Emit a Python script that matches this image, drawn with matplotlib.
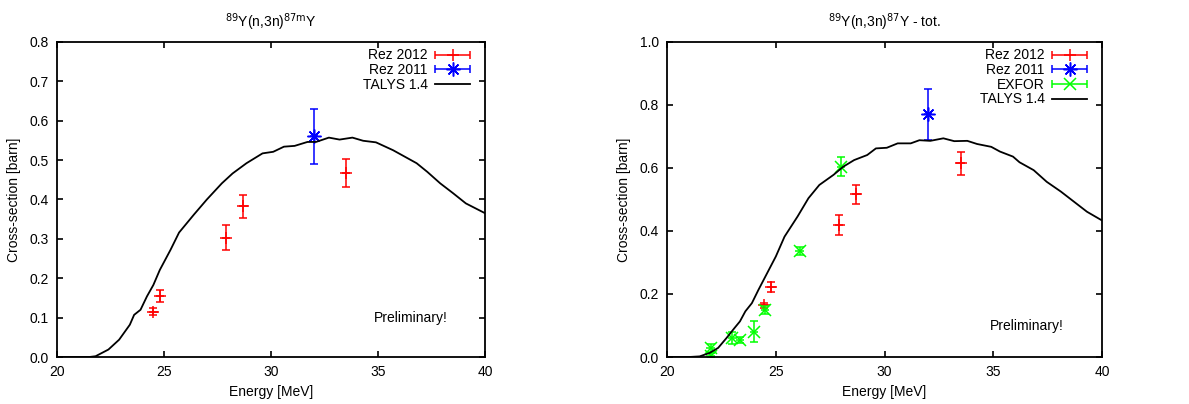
import numpy as np
import matplotlib.pyplot as plt
from matplotlib.legend_handler import HandlerErrorbar
from matplotlib.container import ErrorbarContainer

plt.rcParams['font.family'] = ['Liberation Sans', 'DejaVu Sans']
plt.rcParams['font.size'] = 10

# --- 87mY (isomer) ---
talys_m_e = [20.0, 21.0, 21.5, 21.8, 22.4, 22.9, 23.4, 23.6, 23.9, 24.2, 24.5, 24.8, 25.3, 25.7,
             26.4, 27.0, 27.7, 28.2, 28.85, 29.6, 30.1, 30.6, 31.1, 31.7, 32.1, 32.7, 33.2,
             33.8, 34.3, 34.9, 35.7, 36.2, 36.8, 37.3, 37.9, 38.5, 39.1, 40.0]
talys_m_xs = [0.0, 0.0, 0.0, 0.002, 0.019, 0.044, 0.082, 0.107, 0.12, 0.154, 0.183, 0.221, 0.272,
              0.316, 0.362, 0.400, 0.441, 0.466, 0.492, 0.517, 0.521, 0.534, 0.536, 0.546,
              0.546, 0.557, 0.552, 0.557, 0.549, 0.545, 0.525, 0.510, 0.492, 0.470, 0.441,
              0.416, 0.390, 0.365]
rez12_m_e = [24.5, 24.8, 27.9, 28.7, 33.5]
rez12_m_xs = [0.115, 0.155, 0.303, 0.383, 0.467]
rez12_m_err = [0.009, 0.015, 0.031, 0.029, 0.035]
rez11_m_e = [32.0]
rez11_m_xs = [0.56]
rez11_m_err = [0.07]

# --- 87Y total ---
talys_t_e = [20.0, 21.0, 21.5, 21.96, 22.35, 22.73, 23.1, 23.35, 23.6, 23.9, 24.2, 24.6, 25.0,
             25.4, 26.0, 26.5, 27.0, 27.65, 28.1, 28.6, 29.2, 29.6, 30.1, 30.6, 31.2, 31.6,
             32.1, 32.7, 33.2, 33.8, 34.25, 34.9, 35.3, 35.9, 36.2, 36.85, 37.45, 38.1, 38.7,
             39.3, 40.0]
talys_t_xs = [0.0, 0.0, 0.002, 0.013, 0.029, 0.060, 0.092, 0.113, 0.145, 0.171, 0.213, 0.266,
              0.319, 0.382, 0.446, 0.504, 0.546, 0.578, 0.604, 0.625, 0.641, 0.662, 0.664,
              0.678, 0.678, 0.688, 0.686, 0.694, 0.685, 0.686, 0.676, 0.667, 0.652, 0.636,
              0.618, 0.593, 0.556, 0.525, 0.493, 0.461, 0.433]
rez12_t_e = [24.45, 24.8, 27.9, 28.7, 33.5]
rez12_t_xs = [0.164, 0.222, 0.419, 0.516, 0.615]
rez12_t_err = [0.008, 0.015, 0.033, 0.031, 0.037]
rez11_t_e = [32.0]
rez11_t_xs = [0.77]
rez11_t_err = [0.08]
exfor_e = [22.0, 22.0, 23.0, 23.35, 24.0, 24.5, 26.1, 28.0]
exfor_xs = [0.029, 0.004, 0.060, 0.055, 0.080, 0.150, 0.337, 0.604]
exfor_err = [0.012, 0.008, 0.020, 0.010, 0.033, 0.012, 0.012, 0.030]

RED, BLUE, GREEN = '#ff0000', '#0000ff', '#00ff00'
ASTER = (8, 2, 0)
xerr_size = 0.2


def points(ax, e, xs, err, color, marker, ms):
    ax.errorbar(e, xs, yerr=err, fmt='none', ecolor=color, elinewidth=1.1, capsize=3, capthick=1.1)
    ax.errorbar(e, xs, xerr=xerr_size, fmt='none', ecolor=color, elinewidth=1.1, capsize=0)
    ax.plot(e, xs, ls='none', marker=marker, color=color, ms=ms, mew=1.1)


def legend_entry(ax, color, marker, ms, label):
    # dummy container so the legend sample is a horizontal bar like gnuplot
    return ax.errorbar([np.nan], [np.nan], xerr=[1], fmt='', ls='none', marker=marker, color=color,
                       ms=ms, mew=1.1, elinewidth=1.1, capsize=3, capthick=1.1, label=label)


def style(ax, ymax, ystep, title, handles):
    ax.set_xlim(20, 40)
    ax.set_ylim(0, ymax)
    ax.set_xticks(np.arange(20, 41, 5))
    ax.set_yticks(np.arange(0, ymax + 1e-9, ystep))
    ax.yaxis.set_major_formatter(plt.FormatStrFormatter('%.1f'))
    ax.tick_params(direction='in', top=True, right=True, length=4, width=1.2, labelsize=10, pad=6)
    for s in ax.spines.values():
        s.set_linewidth(1.3)
    ax.set_xlabel('Energy [MeV]', fontsize=10, labelpad=4)
    ax.set_ylabel('Cross-section [barn]', fontsize=10, labelpad=6)
    ax.set_title(title, fontsize=10, pad=11)
    ax.text(36.55, 0.1, 'Preliminary!', ha='center', va='center', fontsize=10)
    ax.legend(handles=handles, loc='upper right', bbox_to_anchor=(0.978, 0.997),
              frameon=False, markerfirst=False, fontsize=10,
              handlelength=2.5, handletextpad=0.55, labelspacing=0.05, borderaxespad=0.0,
              handler_map={ErrorbarContainer: HandlerErrorbar(xerr_size=1.25)})


fig = plt.figure(figsize=(11.89, 4.04), dpi=100)
ax1 = fig.add_axes([0.048, 0.1163, 0.360, 0.780])
ax2 = fig.add_axes([0.561, 0.1163, 0.366, 0.780])

# left panel
points(ax1, rez12_m_e, rez12_m_xs, rez12_m_err, RED, '+', 9)
points(ax1, rez11_m_e, rez11_m_xs, rez11_m_err, BLUE, ASTER, 10)
h1 = [legend_entry(ax1, RED, '+', 9, 'Rez 2012'),
      legend_entry(ax1, BLUE, ASTER, 10, 'Rez 2011')]
h1 += ax1.plot(talys_m_e, talys_m_xs, color='black', lw=1.3, label='TALYS 1.4')
style(ax1, 0.8, 0.1, r'$^{89}$Y(n,3n)$^{87\mathrm{m}}$Y', h1)

# right panel
points(ax2, rez12_t_e, rez12_t_xs, rez12_t_err, RED, '+', 9)
points(ax2, rez11_t_e, rez11_t_xs, rez11_t_err, BLUE, ASTER, 10)
points(ax2, exfor_e, exfor_xs, exfor_err, GREEN, 'x', 9)
h2 = [legend_entry(ax2, RED, '+', 9, 'Rez 2012'),
      legend_entry(ax2, BLUE, ASTER, 10, 'Rez 2011'),
      legend_entry(ax2, GREEN, 'x', 9, 'EXFOR')]
h2 += ax2.plot(talys_t_e, talys_t_xs, color='black', lw=1.3, label='TALYS 1.4')
style(ax2, 1.0, 0.2, r'$^{89}$Y(n,3n)$^{87}$Y - tot.', h2)

fig.savefig('out.png', dpi=100)
